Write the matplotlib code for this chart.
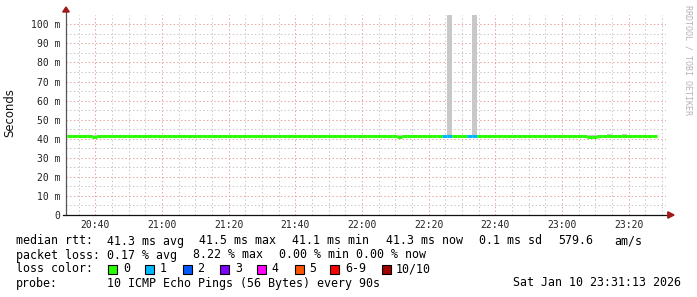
import matplotlib
matplotlib.use('Agg')
import matplotlib.pyplot as plt
from matplotlib.patches import Polygon, Rectangle
from matplotlib.ticker import FuncFormatter, MultipleLocator

# time axis: minutes since midnight, last 3 hours up to 23:31:13
t_start = 20 * 60 + 31 + 13 / 60.0
t_end = t_start + 180
first_step = 20 * 60 + 31.5   # 90 s steps
step_len = 1.5

# median rtt per step (ms)
median = [
    41.5, 41.2, 41.5, 41.2, 41.5, 41.1, 41.4, 41.4, 41.2, 41.4,
    41.4, 41.4, 41.2, 41.4, 41.4, 41.4, 41.4, 41.4, 41.2, 41.4,
    41.4, 41.4, 41.4, 41.4, 41.2, 41.4, 41.2, 41.4, 41.2, 41.2,
    41.4, 41.4, 41.4, 41.4, 41.2, 41.4, 41.4, 41.4, 41.3, 41.3,
    41.2, 41.4, 41.3, 41.3, 41.2, 41.3, 41.4, 41.3, 41.3, 41.2,
    41.3, 41.4, 41.4, 41.3, 41.2, 41.3, 41.3, 41.4, 41.3, 41.2,
    41.3, 41.3, 41.4, 41.3, 41.3, 41.3, 41.1, 41.3, 41.3, 41.3,
    41.3, 41.3, 41.3, 41.2, 41.3, 41.2, 41.3, 41.3, 41.3, 41.2,
    41.3, 41.3, 41.3, 41.3, 41.3, 41.2, 41.3, 41.3, 41.3, 41.3,
    41.3, 41.3, 41.3, 41.3, 41.3, 41.3, 41.3, 41.2, 41.3, 41.3,
    41.3, 41.3, 41.3, 41.3, 41.1, 41.1, 41.2, 41.3, 41.4, 41.4,
    41.3, 41.3, 41.3, 41.3, 41.3, 41.2, 41.3, 41.3,
]
# pings lost per step (of 10)
loss = [
    0, 0, 0, 0, 0, 0, 0, 0, 0, 0, 0, 0, 0, 0, 0, 0, 0, 0, 0, 0,
    0, 0, 0, 0, 0, 0, 0, 0, 0, 0, 0, 0, 0, 0, 0, 0, 0, 0, 0, 0,
    0, 0, 0, 0, 0, 0, 0, 0, 0, 0, 0, 0, 0, 0, 0, 0, 0, 0, 0, 0,
    0, 0, 0, 0, 0, 0, 0, 0, 0, 0, 0, 0, 0, 0, 0, 1, 1, 0, 0, 0,
    1, 1, 0, 0, 0, 0, 0, 0, 0, 0, 0, 0, 0, 0, 0, 0, 0, 0, 0, 0,
    0, 0, 0, 0, 0, 0, 0, 0, 0, 0, 0, 0, 0, 0, 0, 0, 0, 0,
]
# smoke (spread of the pings) per step, ms
smoke_lo = [
    41.0, 41.0, 41.0, 41.0, 41.0, 41.0, 41.0, 41.0, 41.0, 41.0,
    41.0, 41.0, 41.0, 41.0, 41.0, 41.0, 41.0, 41.0, 41.0, 41.0,
    41.0, 41.0, 41.0, 41.0, 41.0, 41.0, 41.0, 41.0, 41.0, 41.0,
    41.0, 41.0, 41.0, 41.0, 41.0, 41.0, 41.0, 41.0, 41.0, 41.0,
    41.0, 41.0, 41.0, 41.0, 41.0, 41.0, 41.0, 41.0, 41.0, 41.0,
    41.0, 41.0, 41.0, 41.0, 41.0, 41.0, 41.0, 41.0, 41.0, 41.0,
    41.0, 41.0, 41.0, 41.0, 41.0, 41.0, 41.0, 41.0, 41.0, 41.0,
    41.0, 41.0, 41.0, 41.0, 41.0, 41.0, 41.0, 41.0, 41.0, 41.0,
    41.0, 41.0, 41.0, 41.0, 41.0, 41.0, 41.0, 41.0, 41.0, 41.0,
    41.0, 41.0, 41.0, 41.0, 41.0, 41.0, 41.0, 41.0, 41.0, 41.0,
    41.0, 41.0, 41.0, 41.0, 41.0, 41.0, 41.0, 41.0, 41.0, 41.0,
    41.0, 41.0, 41.0, 41.0, 41.0, 41.0, 41.0, 41.0,
]
smoke_hi = [
    41.7, 41.7, 41.7, 41.7, 41.7, 41.7, 41.7, 41.7, 41.7, 41.7,
    41.7, 41.7, 41.7, 41.7, 41.7, 41.7, 41.7, 41.7, 41.7, 41.7,
    41.7, 41.7, 41.7, 41.7, 41.7, 41.7, 41.7, 41.7, 41.7, 41.7,
    41.7, 41.7, 41.7, 41.7, 41.7, 41.7, 41.7, 41.7, 41.7, 41.7,
    41.7, 41.7, 41.7, 41.7, 41.7, 41.7, 41.7, 41.7, 41.7, 41.7,
    41.7, 41.7, 41.7, 41.7, 41.7, 41.7, 41.7, 41.7, 41.7, 41.7,
    41.7, 41.7, 41.7, 41.7, 41.7, 41.7, 41.7, 41.7, 41.7, 41.7,
    41.7, 41.7, 41.7, 41.7, 41.7, 41.7, 105.0, 41.7, 41.7, 41.7,
    41.7, 105.0, 41.7, 41.7, 41.7, 41.7, 41.7, 41.7, 41.7, 41.7,
    41.7, 41.7, 41.7, 41.7, 41.7, 41.7, 41.7, 41.7, 41.7, 41.7,
    41.7, 41.7, 41.7, 41.7, 41.7, 41.7, 41.7, 41.7, 42.6, 41.7,
    41.7, 42.4, 41.7, 41.7, 41.7, 41.7, 41.7, 41.7,
]

loss_labels = ['0', '1', '2', '3', '4', '5', '6-9', '10/10']
loss_colors = ['#26ff00', '#00b8ff', '#0059ff', '#7e00ff', '#ff00ff',
               '#ff5500', '#ff0000', '#a10000']

mono = 'DejaVu Sans Mono'
W, H = 697, 297

fig = plt.figure(figsize=(W / 100, H / 100), dpi=100)
ax = fig.add_axes([66 / W, (H - 215) / H, 600 / W, 200 / H])
ax.set_xlim(t_start, t_end)
ax.set_ylim(0, 104.9)

# grid
ax.xaxis.set_major_locator(MultipleLocator(20))
ax.xaxis.set_minor_locator(MultipleLocator(5))
ax.yaxis.set_major_locator(MultipleLocator(10))
ax.yaxis.set_minor_locator(MultipleLocator(5))
ax.grid(which='minor', color='#c4c4c4', linestyle=(0, (1.4, 2.4)), linewidth=0.7)
ax.grid(which='major', color='#eb9c9c', linestyle=(0, (1.4, 2.4)), linewidth=0.7)
ax.set_axisbelow(True)

steps = [first_step + i * step_len for i in range(len(median))]

# smoke
ax.bar(steps, [h - l for h, l in zip(smoke_hi, smoke_lo)], bottom=smoke_lo,
       width=step_len, align='edge', color='#c8c8c8', linewidth=0, zorder=2)

# median, coloured by loss
for i, t in enumerate(steps):
    c = loss_colors[min(loss[i], 6) if loss[i] < 10 else 7]
    ax.plot([t, t + step_len], [median[i], median[i]], color=c,
            linewidth=2.2, solid_capstyle='butt', zorder=3)

ax.xaxis.set_major_formatter(FuncFormatter(lambda v, p: '%02d:%02d' % (int(v // 60), int(round(v % 60)))))
ax.yaxis.set_major_formatter(FuncFormatter(lambda v, p: '0' if v == 0 else '%d m' % v))
ax.tick_params(which='both', length=0)
ax.tick_params(axis='x', pad=3.5, labelsize=7, colors='#222222')
ax.tick_params(axis='y', pad=4.3, labelsize=7, colors='#222222')
for lab in ax.get_xticklabels() + ax.get_yticklabels():
    lab.set_family(mono)

for s in ax.spines.values():
    s.set_visible(False)

# axes with arrows
ax.plot([0, 0], [0, 1.015], transform=ax.transAxes, color='#555555', lw=0.9, clip_on=False, zorder=4)
ax.plot([-0.005, 1.005], [0, 0], transform=ax.transAxes, color='#111111', lw=0.9, clip_on=False, zorder=4)
ax.add_patch(Polygon([[-0.0055, 1.015], [0.0055, 1.015], [0, 1.04]], closed=True,
                     transform=ax.transAxes, color='#a01818', clip_on=False, zorder=5))
ax.add_patch(Polygon([[1.003, -0.016], [1.003, 0.016], [1.0135, 0]], closed=True,
                     transform=ax.transAxes, color='#a01818', clip_on=False, zorder=5))

fig.text(10 / W, 1 - 113 / H, 'Seconds', rotation=90, ha='center', va='center',
         fontsize=8.4, family='DejaVu Sans', color='#111111')
fig.text(688 / W, 1 - 60 / H, 'RRDTOOL / TOBI OETIKER', rotation=270, ha='center',
         va='center', fontsize=6, family=mono, color='#b4b4b4')


def put(x, y, s):
    fig.text(x / W, 1 - y / H, s, ha='left', va='center', fontsize=8.4,
             family=mono, color='#000000')


put(16, 241, 'median rtt:')
put(107, 241, '41.3 ms avg')
put(199, 241, '41.5 ms max')
put(292, 241, '41.1 ms min')
put(386, 241, '41.3 ms now')
put(479, 241, '0.1 ms sd')
put(558, 241, '579.6')
put(614, 241, 'am/s')

put(16, 255, 'packet loss:')
put(107, 255, '0.17 % avg')
put(193, 255, '8.22 % max')
put(279, 255, '0.00 % min')
put(356, 255, '0.00 % now')

put(16, 269, 'loss color:')
sq_x = [108, 145, 183, 220, 257, 295, 330, 382]
lab_x = [123, 160, 197, 235, 271, 309, 345, 396]
for sx, lx, lab, col in zip(sq_x, lab_x, loss_labels, loss_colors):
    fig.add_artist(Rectangle((sx / W, 1 - 273.5 / H), 9 / W, 9 / H, facecolor=col,
                             edgecolor='#000000', linewidth=0.8, transform=fig.transFigure))
    put(lx, 269, lab)

put(16, 283, 'probe:')
put(107, 283, '10 ICMP Echo Pings (56 Bytes) every 90s')
put(513, 283, 'Sat Jan 10 23:31:13 2026')

fig.savefig('out.png', dpi=100, facecolor='white')
